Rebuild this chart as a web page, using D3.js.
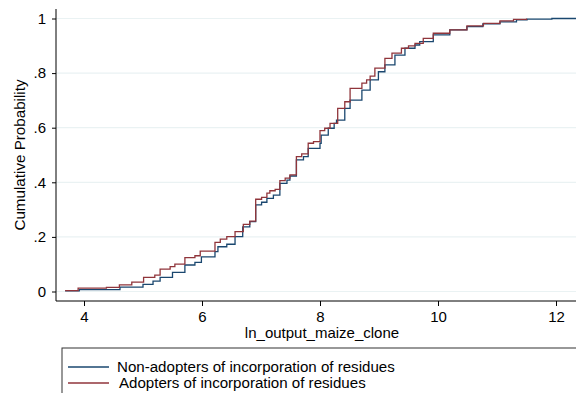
<!DOCTYPE html>
<html>
<head>
<meta charset="utf-8">
<script src="https://cdn.jsdelivr.net/npm/d3@7"></script>
<style>
  html, body { margin: 0; padding: 0; background: #fff; }
  svg { display: block; font-family: "Liberation Sans", Arial, sans-serif; }
</style>
</head>
<body>
<svg width="576" height="393"></svg>
<script>
// step points of the empirical CDF (x = ln output, y = cumulative probability)
const nonAdoptX = [3.68, 3.92, 4.61, 5.0, 5.17, 5.29, 5.5, 5.71, 5.88, 5.99, 6.22, 6.27, 6.42, 6.56, 6.69, 6.81, 6.91, 7.01, 7.1, 7.21, 7.32, 7.44, 7.49, 7.6, 7.72, 7.8, 8.0, 8.02, 8.14, 8.24, 8.28, 8.42, 8.51, 8.71, 8.85, 8.99, 9.1, 9.27, 9.44, 9.61, 9.69, 9.92, 10.2, 10.49, 10.76, 11.05, 11.33, 11.51, 11.93, 12.5];
const nonAdoptY = [0.002, 0.007, 0.016, 0.026, 0.038, 0.052, 0.07, 0.097, 0.107, 0.127, 0.146, 0.164, 0.173, 0.201, 0.237, 0.256, 0.317, 0.327, 0.341, 0.353, 0.396, 0.408, 0.423, 0.482, 0.494, 0.524, 0.543, 0.573, 0.598, 0.616, 0.628, 0.671, 0.701, 0.738, 0.775, 0.805, 0.83, 0.866, 0.891, 0.903, 0.915, 0.94, 0.958, 0.97, 0.98, 0.988, 0.995, 0.998, 1.0, 1.0];

const adoptX = [3.68, 3.9, 4.38, 4.6, 4.81, 5.01, 5.2, 5.29, 5.46, 5.54, 5.71, 5.88, 5.97, 6.22, 6.31, 6.42, 6.56, 6.7, 6.81, 6.91, 7.01, 7.1, 7.15, 7.24, 7.32, 7.41, 7.49, 7.6, 7.69, 7.8, 7.89, 8.0, 8.08, 8.17, 8.3, 8.42, 8.51, 8.71, 8.79, 8.85, 8.93, 9.1, 9.22, 9.38, 9.5, 9.61, 9.75, 9.92, 10.2, 10.49, 10.77, 11.05, 11.28, 11.5];
const adoptY = [0.003, 0.012, 0.015, 0.024, 0.034, 0.052, 0.06, 0.082, 0.091, 0.1, 0.124, 0.131, 0.148, 0.18, 0.192, 0.201, 0.219, 0.246, 0.258, 0.338, 0.345, 0.36, 0.369, 0.374, 0.406, 0.415, 0.427, 0.494, 0.504, 0.543, 0.549, 0.589, 0.598, 0.616, 0.671, 0.695, 0.744, 0.763, 0.775, 0.789, 0.818, 0.854, 0.873, 0.891, 0.9, 0.909, 0.927, 0.946, 0.958, 0.973, 0.982, 0.991, 0.997, 1.0];

const xTicks = [4, 6, 8, 10, 12];
const yTicks = [0, 0.2, 0.4, 0.6, 0.8, 1];
const yTickLabels = ['0', '.2', '.4', '.6', '.8', '1'];
const seriesNames = ['Non-adopters of incorporation of residues', 'Adopters of incorporation of residues'];
const seriesColors = ['#1a476f', '#90353b'];

const svg = d3.select('svg');
const left = 56, right = 576, axisY = 301;
const FONT = '"Liberation Sans", Arial, sans-serif';

const x = d3.scaleLinear().domain([4, 12]).range([84, 556]);
const y = d3.scaleLinear().domain([0, 1]).range([291.5, 18.5]);

// gridlines
svg.append('g')
  .selectAll('line')
  .data(yTicks)
  .join('line')
    .attr('x1', left).attr('x2', right)
    .attr('y1', d => y(d)).attr('y2', d => y(d))
    .attr('stroke', '#eaf2f3')
    .attr('stroke-width', 1.2);

// curves
svg.append('defs').append('clipPath').attr('id', 'plot')
  .append('rect').attr('x', left).attr('y', 0).attr('width', right - left).attr('height', axisY);

const lineFn = d3.line().curve(d3.curveStepAfter).x(p => x(p[0])).y(p => y(p[1]));
const series = [
  d3.zip(nonAdoptX, nonAdoptY),
  d3.zip(adoptX, adoptY)
];

svg.append('g').attr('clip-path', 'url(#plot)')
  .selectAll('path')
  .data(series)
  .join('path')
    .attr('d', d => lineFn(d))
    .attr('fill', 'none')
    .attr('stroke', (d, i) => seriesColors[i])
    .attr('stroke-width', 1.3);

// axes
const yAxis = svg.append('g')
  .attr('transform', `translate(${left},0)`)
  .call(d3.axisLeft(y).tickValues(yTicks).tickSize(4).tickPadding(6)
    .tickFormat((d, i) => yTickLabels[i]));
yAxis.select('.domain').attr('d', `M0,9V${axisY}`).attr('stroke', '#000');
yAxis.selectAll('.tick line').attr('stroke', '#000');
yAxis.selectAll('.tick text').attr('font-size', 15).attr('fill', '#000').attr('font-family', FONT);

const xAxis = svg.append('g')
  .attr('transform', `translate(0,${axisY})`)
  .call(d3.axisBottom(x).tickValues(xTicks).tickSize(5).tickPadding(5));
xAxis.select('.domain').attr('d', `M${left},0H${right + 2}`).attr('stroke', '#000');
xAxis.selectAll('.tick line').attr('stroke', '#000');
xAxis.selectAll('.tick text').attr('font-size', 15).attr('fill', '#000').attr('font-family', FONT);

// axis titles
svg.append('text')
  .attr('x', 322).attr('y', 337.5)
  .attr('text-anchor', 'middle').attr('font-size', 15)
  .text('ln_output_maize_clone');

svg.append('text')
  .attr('transform', `translate(25,${(y(0) + y(1)) / 2}) rotate(-90)`)
  .attr('text-anchor', 'middle').attr('font-size', 15.2)
  .text('Cumulative Probability');

// legend
svg.append('rect')
  .attr('x', 62).attr('y', 348).attr('width', 540).attr('height', 80)
  .attr('fill', '#fff').attr('stroke', '#333').attr('stroke-width', 1);

const legend = svg.append('g')
  .selectAll('g')
  .data(seriesNames)
  .join('g')
    .attr('transform', (d, i) => `translate(0,${367 + i * 16})`);
legend.append('line')
  .attr('x1', 68).attr('x2', 109)
  .attr('stroke', (d, i) => seriesColors[i]).attr('stroke-width', 1.3);
legend.append('text')
  .attr('x', (d, i) => i === 0 ? 117 : 119).attr('y', 5)
  .attr('font-size', 15.1)
  .text(d => d);
</script>
</body>
</html>
